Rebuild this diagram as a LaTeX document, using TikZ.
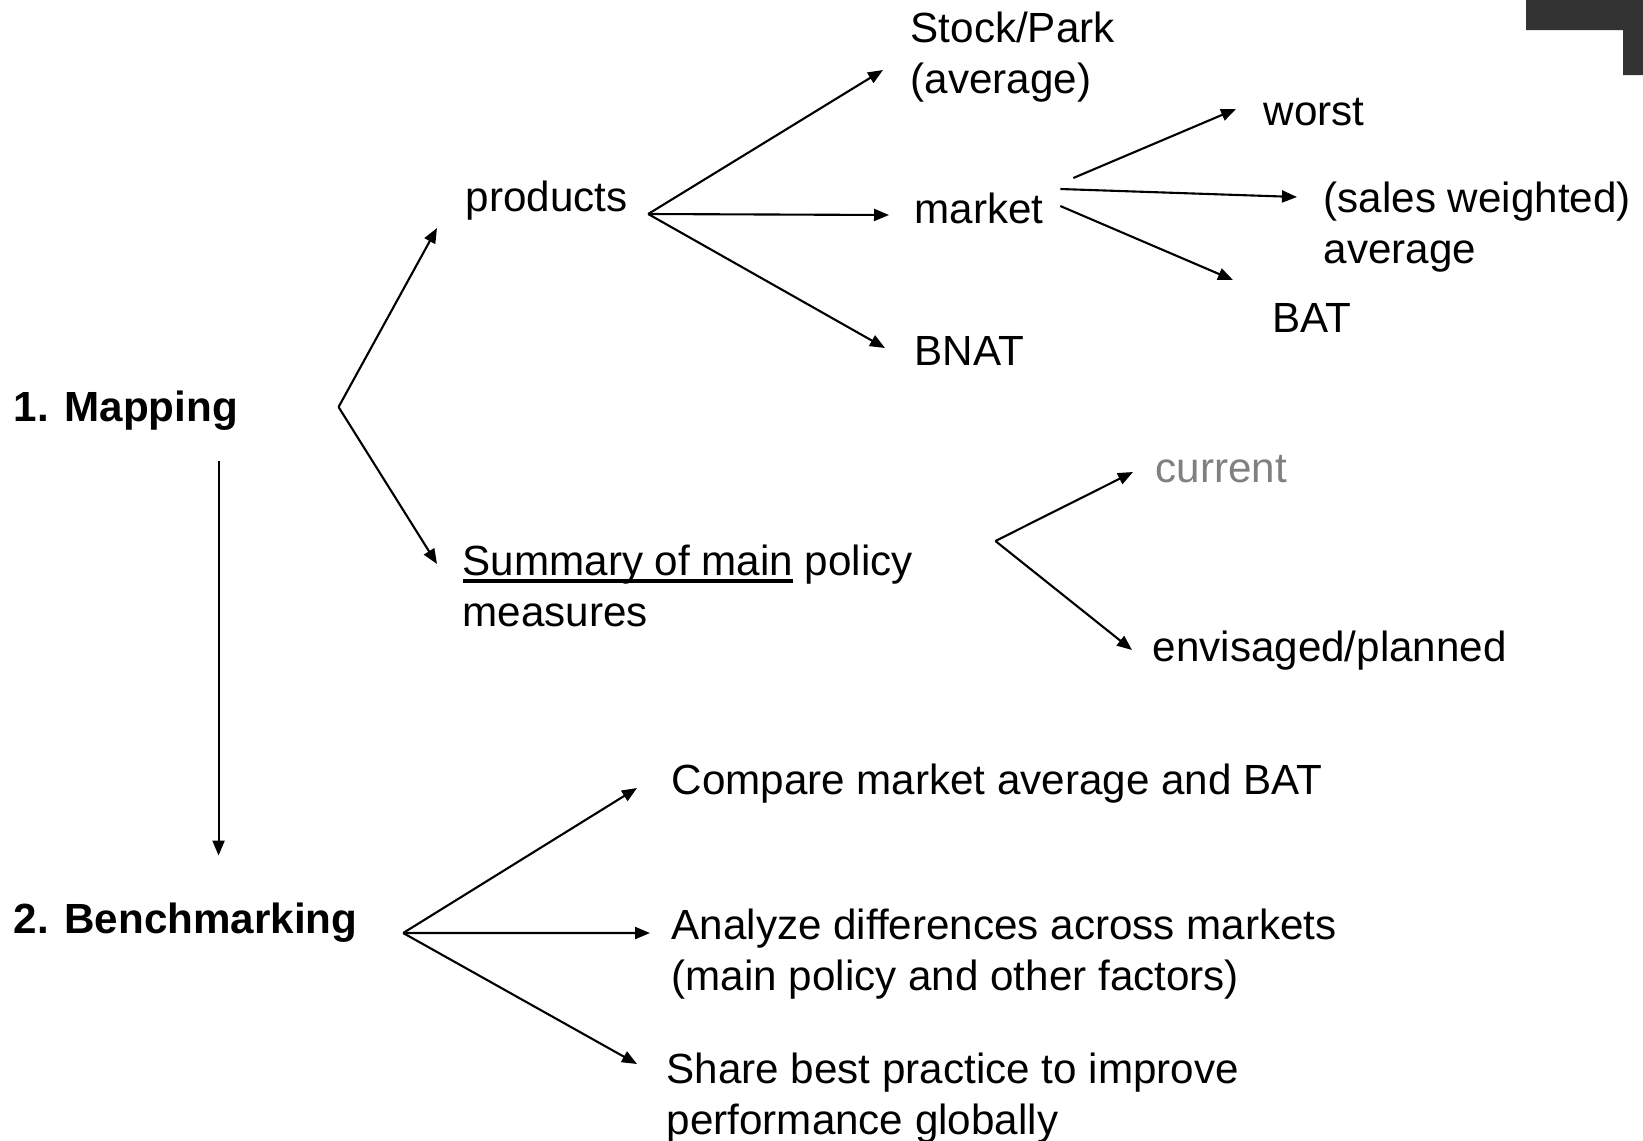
\documentclass[tikz,border=0pt]{standalone}
\usepackage{fontspec}
\setmainfont{Liberation Sans}
\usepackage{xcolor}
\usepackage{tikz}
\usetikzlibrary{arrows.meta}
\definecolor{cornerbar}{HTML}{333333}
\newlength{\ulwidth}
\newcommand{\ulinetext}[1]{\settowidth{\ulwidth}{#1}\rlap{\rule[-2.1pt]{\ulwidth}{1.1pt}}#1}

\begin{document}
\begin{tikzpicture}[
labelnode/.style={inner sep=0pt, anchor=west, align=left, font=\fontsize{12}{14.3}\selectfont},
headnode/.style={labelnode, font=\fontsize{12}{14.3}\selectfont\bfseries},
arrowline/.style={-{Triangle[length=1.5mm,width=1.2mm]}, line width=0.6pt},
]
\useasboundingbox (0,0) rectangle (16.43,-11.40);
%Corner mark
\fill[cornerbar] (15.26,0) -- (16.43,0) -- (16.43,-0.75) -- (16.23,-0.75) -- (16.23,-0.30) -- (15.26,-0.30) -- cycle;

%Nodes
\node[labelnode] (stock) at (9.10,-0.57) {Stock/Park\\(average)};
\node[labelnode] (worst) at (12.63,-1.12) {worst};
\node[labelnode] (products) at (4.65,-2.01) {products};
\node[labelnode] (market) at (9.14,-2.08) {market};
\node[labelnode] (salesavg) at (13.23,-2.27) {(sales weighted)\\average};
\node[labelnode] (bat) at (12.72,-3.18) {BAT};
\node[labelnode] (bnat) at (9.14,-3.51) {BNAT};
\node[headnode] (mapping) at (0.13,-4.11) {1. Mapping};
\node[labelnode, text=gray] (current) at (11.55,-4.69) {current};
\node[labelnode] (summary) at (4.62,-5.86) {\ulinetext{Summary of main} policy\\measures};
\node[labelnode] (envisaged) at (11.52,-6.51) {envisaged/planned};
\node[labelnode] (compare) at (6.71,-7.84) {Compare market average and BAT};
\node[headnode] (benchmarking) at (0.13,-9.23) {2. Benchmarking};
\node[labelnode] (analyze) at (6.71,-9.54) {Analyze differences across markets\\(main policy and other factors)};
\node[labelnode] (share) at (6.66,-10.98) {Share best practice to improve\\performance globally};

%Forks
\coordinate (mapfork) at ([xshift=10mm,yshift=0.4mm]mapping.east);
\coordinate (prodfork) at ([xshift=2mm,yshift=-1.3mm]products.east);
\coordinate (summfork) at ([xshift=8.2mm,yshift=4.5mm]summary.east);
\coordinate (benchfork) at ([xshift=4.5mm,yshift=-1.0mm]benchmarking.east);

%Lines
\draw[arrowline] (mapfork) -- ([xshift=-2.8mm,yshift=-2.7mm]products.west);
\draw[arrowline] (mapfork) -- ([xshift=-2.5mm,yshift=2.2mm]summary.west);
\draw[arrowline] (prodfork) -- ([xshift=-2.7mm,yshift=-1.3mm]stock.west);
\draw[arrowline] (prodfork) -- ([xshift=-2.5mm,yshift=-0.7mm]market.west);
\draw[arrowline] (prodfork) -- ([xshift=-2.9mm,yshift=0.3mm]bnat.west);
\draw[arrowline] ([xshift=2.9mm,yshift=3.0mm]market.east) -- ([xshift=-2.7mm,yshift=0.3mm]worst.west);
\draw[arrowline] ([xshift=1.6mm,yshift=1.9mm]market.east) -- ([xshift=-2.6mm,yshift=3.0mm]salesavg.west);
\draw[arrowline] ([xshift=1.6mm,yshift=0.2mm]market.east) -- ([xshift=-3.9mm,yshift=3.8mm]bat.west);
\draw[arrowline] (summfork) -- ([xshift=-2.2mm,yshift=-0.3mm]current.west);
\draw[arrowline] (summfork) -- ([xshift=-2.0mm,yshift=0.1mm]envisaged.west);
\draw[arrowline] ([xshift=-2mm,yshift=-3.0mm]mapping.south east) -- ([xshift=-2mm,yshift=4.7mm]mapping.south east |- benchmarking.north);
\draw[arrowline] (benchfork) -- ([xshift=-3.4mm,yshift=-0.4mm]compare.west);
\draw[arrowline] (benchfork) -- ([xshift=-2.1mm,yshift=2.1mm]analyze.west);
\draw[arrowline] (benchfork) -- ([xshift=-2.9mm,yshift=3.4mm]share.west);

\end{tikzpicture}
\end{document}
